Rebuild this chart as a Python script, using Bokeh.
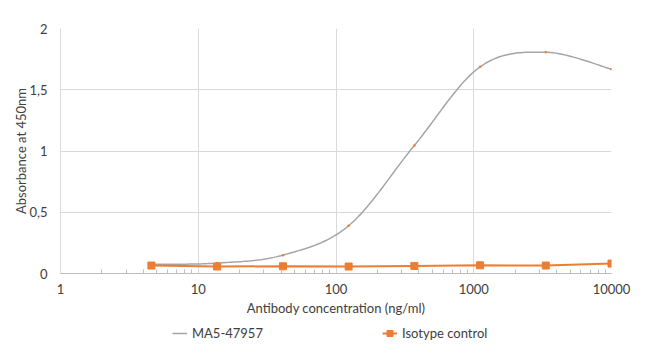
import numpy as np
from bokeh.plotting import figure
from bokeh.layouts import column
from bokeh.models import Legend, LegendItem, FixedTicker
from bokeh.embed import file_html
from bokeh.resources import INLINE

# Data (3-fold dilution series, ng/ml)
concentration = [4.57, 13.7, 41.2, 123.5, 370.4, 1111.1, 3333.3, 10000.0]
ma5_47957 = [0.075, 0.085, 0.15, 0.39, 1.045, 1.687, 1.806, 1.668]
isotype_control = [0.065, 0.057, 0.059, 0.057, 0.062, 0.067, 0.065, 0.081]
y_tick_values = [0, 0.5, 1, 1.5, 2]
y_tick_labels = ["0", "0,5", "1", "1,5", "2"]
x_tick_values = [1, 10, 100, 1000, 10000]

FONT = "Lato"
TXT = "#404040"
GRAY = "#A5A5A5"
ORANGE = "#ED7D31"


def smooth(xs, ys, n=30):
    """Catmull-Rom smoothing in log-x space (like a spreadsheet 'smoothed line')."""
    lx = np.log10(np.asarray(xs, float))
    y = np.asarray(ys, float)
    px = np.concatenate([[lx[0]], lx, [lx[-1]]])
    py = np.concatenate([[y[0]], y, [y[-1]]])
    ox, oy = [], []
    t = np.linspace(0, 1, n)
    for i in range(1, len(px) - 2):
        p0x, p1x, p2x, p3x = px[i - 1], px[i], px[i + 1], px[i + 2]
        p0y, p1y, p2y, p3y = py[i - 1], py[i], py[i + 1], py[i + 2]
        c1x, c1y = p1x + (p2x - p0x) / 6, p1y + (p2y - p0y) / 6
        c2x, c2y = p2x - (p3x - p1x) / 6, p2y - (p3y - p1y) / 6
        bx = (1 - t) ** 3 * p1x + 3 * (1 - t) ** 2 * t * c1x + 3 * (1 - t) * t ** 2 * c2x + t ** 3 * p2x
        by = (1 - t) ** 3 * p1y + 3 * (1 - t) ** 2 * t * c1y + 3 * (1 - t) * t ** 2 * c2y + t ** 3 * p2y
        ox.extend(bx.tolist())
        oy.extend(by.tolist())
    return (10 ** np.array(ox)).tolist(), oy


p = figure(width=650, height=318, x_axis_type="log", x_range=(1, 10000), y_range=(0, 2),
           output_backend="svg", toolbar_location=None,
           min_border_left=60, min_border_right=39, min_border_top=28, min_border_bottom=43)
p.outline_line_color = None
p.background_fill_color = "white"

# grid
p.xgrid.ticker = FixedTicker(ticks=x_tick_values)
p.ygrid.ticker = FixedTicker(ticks=y_tick_values)
p.xgrid.grid_line_color = "#D9D9D9"
p.ygrid.grid_line_color = "#D9D9D9"

# x axis
xa = p.xaxis[0]
xa.ticker = FixedTicker(ticks=x_tick_values,
                        minor_ticks=[m * 10 ** d for d in range(0, 4) for m in range(2, 10)])
xa.major_tick_in = 0
xa.major_tick_out = 0
xa.minor_tick_in = 4
xa.minor_tick_out = 0
xa.minor_tick_line_color = "#BFBFBF"
xa.axis_line_color = "#BFBFBF"
xa.major_label_standoff = 10
xa.major_label_text_font = FONT
xa.major_label_text_font_size = "13px"
xa.major_label_text_color = TXT
xa.major_label_overrides = {v: str(v) for v in x_tick_values}
xa.axis_label = "Antibody concentration (ng/ml)"
xa.axis_label_standoff = 3
xa.axis_label_text_font = FONT
xa.axis_label_text_font_size = "13px"
xa.axis_label_text_font_style = "normal"
xa.axis_label_text_color = TXT

# y axis
ya = p.yaxis[0]
ya.ticker = FixedTicker(ticks=y_tick_values)
ya.major_label_overrides = {v: s for v, s in zip(y_tick_values, y_tick_labels)}
ya.major_tick_in = 0
ya.major_tick_out = 0
ya.minor_tick_line_color = None
ya.axis_line_color = "#D9D9D9"
ya.major_label_standoff = 13
ya.major_label_text_font = FONT
ya.major_label_text_font_size = "13px"
ya.major_label_text_color = TXT
ya.axis_label = "Absorbance at 450nm"
ya.axis_label_standoff = -3
ya.axis_label_text_font = FONT
ya.axis_label_text_font_size = "13px"
ya.axis_label_text_font_style = "normal"
ya.axis_label_text_color = TXT

# series
sx, sy = smooth(concentration, ma5_47957)
p.line(sx, sy, line_color=GRAY, line_width=1.5)
p.scatter(concentration, ma5_47957, marker="circle", size=2.5, fill_color=ORANGE, line_color=None)
p.line(concentration, isotype_control, line_color=ORANGE, line_width=2)
p.scatter(concentration, isotype_control, marker="square", size=7, fill_color=ORANGE, line_color=ORANGE)

# legend strip below the chart (its renderers hold the same series, kept out of view)
p2 = figure(width=650, height=30, output_backend="svg", toolbar_location=None,
            x_axis_location=None, y_axis_location=None, x_range=(0, 1), y_range=(0, 1),
            min_border=0)
p2.outline_line_color = None
p2.grid.visible = False
l1 = p2.line(concentration, ma5_47957, line_color=GRAY, line_width=1.5)
l2 = p2.line(concentration, isotype_control, line_color=ORANGE, line_width=2)
l2b = p2.scatter(concentration, isotype_control, marker="square", size=6, fill_color=ORANGE, line_color=ORANGE)

legend = Legend(items=[LegendItem(label="MA5-47957", renderers=[l1]),
                       LegendItem(label="Isotype control", renderers=[l2, l2b])],
                orientation="horizontal", location=(112, 7))
legend.padding = 0
legend.margin = 0
legend.spacing = 5
legend.glyph_width = 15
legend.glyph_height = 16
legend.label_height = 16
legend.label_standoff = 5
legend.label_width = 185
legend.border_line_color = None
legend.background_fill_alpha = 0
legend.label_text_font = FONT
legend.label_text_font_size = "13px"
legend.label_text_color = TXT
p2.add_layout(legend)

layout = column(p, p2, spacing=0)
open("out.html", "w").write(file_html(layout, INLINE))
